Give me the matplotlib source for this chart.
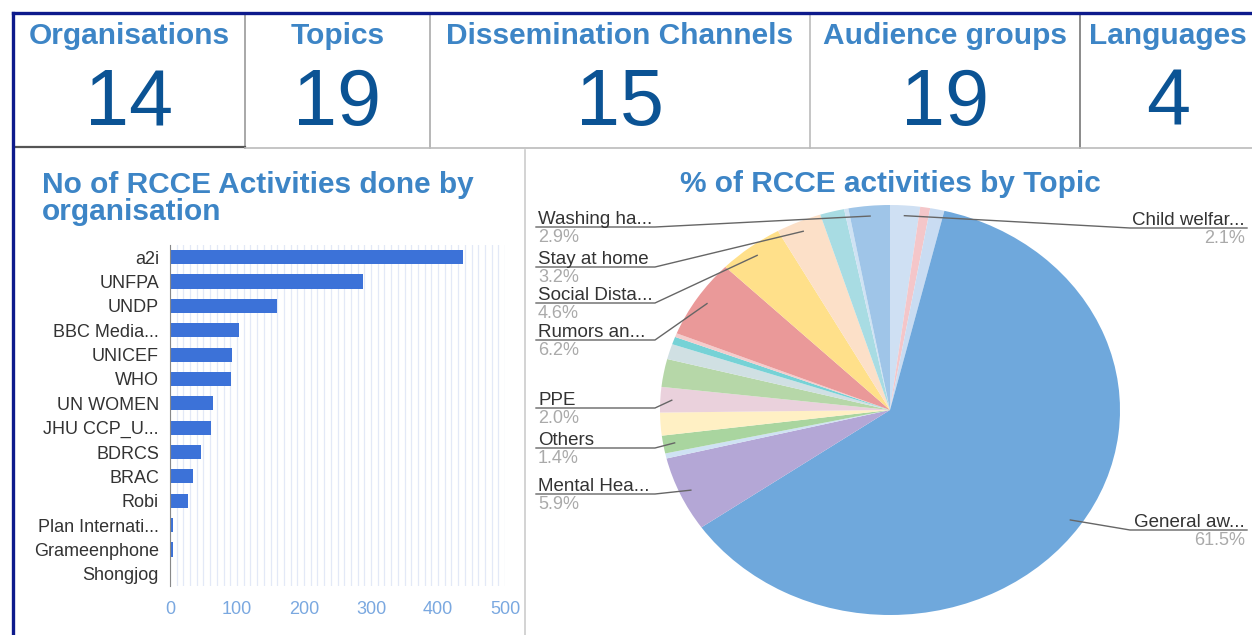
import numpy as np
import matplotlib
matplotlib.use('Agg')
import matplotlib.pyplot as plt

plt.rcParams['font.family'] = ['Liberation Sans', 'DejaVu Sans']

# headline counters
CARD_TITLES = ['Organisations', 'Topics', 'Dissemination Channels', 'Audience groups', 'Languages']
CARD_VALUES = [14, 19, 15, 19, 4]

# activities by organisation
ORGS = ['a2i', 'UNFPA', 'UNDP', 'BBC Media...', 'UNICEF', 'WHO', 'UN WOMEN', 'JHU CCP_U...',
        'BDRCS', 'BRAC', 'Robi', 'Plan Internati...', 'Grameenphone', 'Shongjog']
ORG_ACTIVITIES = [437, 288, 160, 103, 93, 91, 64, 61, 46, 34, 27, 5, 4, 2]

# share of activities by topic (clockwise from 12 o'clock), '' = unlabelled slice
TOPICS = ['Child welfar...', '', '', 'General aw...', 'Mental Hea...', '', 'Others', '',
          'PPE', '', '', '', '', 'Rumors an...', 'Social Dista...', 'Stay at home', '', '',
          'Washing ha...']
TOPIC_SHARES = [2.1, 0.7, 1.0, 61.5, 5.9, 0.4, 1.4, 1.8, 2.0, 2.2, 1.2, 0.6, 0.3,
                6.2, 4.6, 3.2, 1.7, 0.3, 2.9]
TOPIC_COLORS = ['#cfe0f3', '#f4c6c9', '#c9dcf2', '#6fa8dc', '#b4a7d6', '#cfe2f3', '#a9d59f',
                '#fff0c4', '#ead1dc', '#b6d7a8', '#d0e0e3', '#76d2d6', '#f4cccc',
                '#ea9999', '#ffe08a', '#fce0c8', '#a8dce3', '#cfe2f3', '#9fc5e8']

W, H = 1252, 635
HEAD_BLUE = '#3d85c6'
NUM_BLUE = '#0b5394'

fig = plt.figure(figsize=(W / 100, H / 100), dpi=100)

def fx(px):
    return px / W

def fy(py):
    return 1 - py / H

# background / layout layer in pixel coordinates
bg = fig.add_axes([0, 0, 1, 1])
bg.set_xlim(0, W)
bg.set_ylim(H, 0)
bg.axis('off')

card_edges = [14, 245, 430, 810, 1080, 1256]
for i, (title, val) in enumerate(zip(CARD_TITLES, CARD_VALUES)):
    cx = (card_edges[i] + card_edges[i + 1]) / 2
    bg.text(cx, 36, title, ha='center', va='center', fontsize=21.5, fontweight='bold', color=HEAD_BLUE)
    bg.text(cx, 104, str(val), ha='center', va='center', fontsize=57, color=NUM_BLUE)
for x, c in zip([245, 430, 810, 1080], ['#999999', '#aaaaaa', '#bbbbbb', '#777777']):
    bg.plot([x, x], [14, 148], color=c, lw=1.2)
bg.plot([14, 245], [147, 147], color='#555555', lw=1.6)
bg.plot([245, W], [148, 148], color='#bbbbbb', lw=1.2)
bg.plot([525, 525], [150, H], color='#cccccc', lw=1.2)
bg.plot([13, W], [13, 13], color='#0d1a8c', lw=2.4)
bg.plot([13, 13], [13, H], color='#0d1a8c', lw=2.4)

bg.text(42, 171, 'No of RCCE Activities done by\norganisation', ha='left', va='top',
        fontsize=21.5, fontweight='bold', color=HEAD_BLUE, linespacing=0.97)
bg.text(890, 184, '% of RCCE activities by Topic', ha='center', va='center',
        fontsize=21.5, fontweight='bold', color=HEAD_BLUE)

# bar chart
ax = fig.add_axes([fx(170), fy(586), fx(505) - fx(170), (586 - 245) / H])
ax.set_facecolor('none')
y = np.arange(len(ORGS))
ax.barh(y, ORG_ACTIVITIES, height=0.58, color='#3c72d8')
ax.set_ylim(len(ORGS) - 0.5, -0.5)
ax.set_xlim(0, 500)
ax.set_xticks(range(0, 501, 100))
ax.set_xticks(range(0, 501, 10), minor=True)
ax.grid(axis='x', which='both', color='#e3e9f7', lw=0.9)
ax.set_axisbelow(True)
ax.set_yticks(y)
ax.set_yticklabels(ORGS)
for s in ['top', 'right', 'bottom']:
    ax.spines[s].set_visible(False)
ax.spines['left'].set_color('#888888')
ax.tick_params(axis='y', length=0, labelsize=13, labelcolor='#333333', pad=8)
ax.tick_params(axis='x', which='both', length=0, labelsize=13, labelcolor='#7aa8e0', pad=11)

# pie chart, slightly stretched like the source screenshot
CX, CY, RX, RY = 890, 410, 230, 205
pax = fig.add_axes([fx(CX - RX), fy(CY + RY), 2 * RX / W, 2 * RY / H])
pax.pie(TOPIC_SHARES, colors=TOPIC_COLORS, startangle=90, counterclock=False,
        radius=1, wedgeprops=dict(linewidth=0))
pax.set_aspect('auto')
pax.set_xlim(-1, 1)
pax.set_ylim(-1, 1)

# leader labels on top layer
fg = fig.add_axes([0, 0, 1, 1])
fg.set_xlim(0, W)
fg.set_ylim(H, 0)
fg.axis('off')

LABEL_ROWS = {'Washing ha...': ('L', 227), 'Stay at home': ('L', 267), 'Social Dista...': ('L', 303),
              'Rumors an...': ('L', 340), 'PPE': ('L', 408), 'Others': ('L', 448),
              'Mental Hea...': ('L', 494), 'Child welfar...': ('R', 228), 'General aw...': ('R', 530)}

cum = np.cumsum(TOPIC_SHARES)
for name, share, end in zip(TOPICS, TOPIC_SHARES, cum):
    if not name:
        continue
    side, uy = LABEL_ROWS[name]
    theta = np.deg2rad((end - share / 2) / sum(TOPIC_SHARES) * 360)
    r = 0.95
    axp = CX + RX * r * np.sin(theta)
    ayp = CY - RY * r * np.cos(theta)
    if side == 'L':
        tx, ha, elbow = 538, 'left', 655
        xs = [536, min(elbow, axp), axp]
    else:
        tx, ha, elbow = 1245, 'right', 1130
        xs = [1247, max(elbow, axp), axp]
    fg.plot(xs, [uy, uy, ayp], color='#666666', lw=1.0)
    fg.text(tx, uy - 3, name, ha=ha, va='baseline', fontsize=13.5, color='#333333')
    fg.text(tx, uy + 2, f'{share:.1f}%', ha=ha, va='top', fontsize=13, color='#aaaaaa')

fig.savefig('out.png', dpi=100, facecolor='white')
